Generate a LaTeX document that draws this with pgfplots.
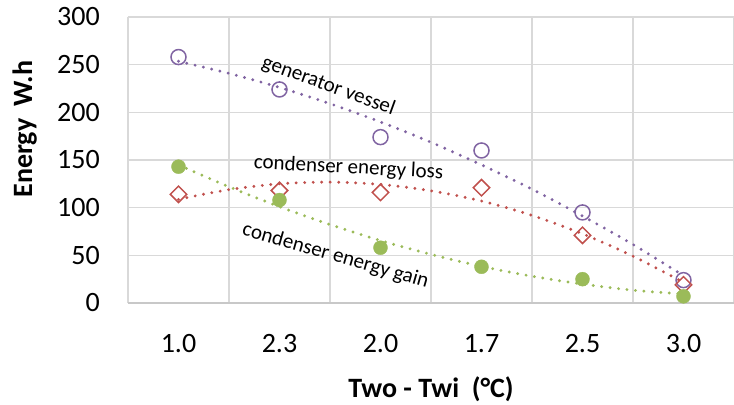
\documentclass[border=0pt]{standalone}
\usepackage{pgfplots}
\pgfplotsset{compat=1.18}
\usepackage{fontspec}
\setmainfont{Carlito}
\definecolor{gvc}{RGB}{128,100,162}
\definecolor{cel}{RGB}{192,80,77}
\definecolor{ceg}{RGB}{155,187,89}
\definecolor{gridc}{RGB}{217,217,217}
\definecolor{axc}{RGB}{200,200,200}
\begin{document}
\begin{tikzpicture}
\begin{axis}[
  name=ax,
  scale only axis, width=606bp, height=286bp,
  xmin=-0.5, xmax=5.5, ymin=0, ymax=300,
  ytick={0,50,...,300},
  xtick={0,...,5}, xticklabels={1.0,2.3,2.0,1.7,2.5,3.0},
  minor xtick={-0.5,0.5,...,5.5},
  xminorgrids, ymajorgrids,
  grid style={gridc, line width=1.3bp},
  minor grid style={gridc, line width=1.3bp},
  major tick length=0pt, minor tick length=0pt,
  axis line style={draw=none},
  tick label style={font=\fontsize{28bp}{34bp}\selectfont},
  /pgf/number format/assume math mode=true,
  xticklabel style={anchor=base, yshift=-49bp},
  yticklabel style={anchor=east, inner xsep=0pt, xshift=-28bp},
  xlabel={Two - Twi\ \ (°C)},
  ylabel={Energy\ \ W.h},
  label style={font=\bfseries\fontsize{28bp}{34bp}\selectfont},
  xlabel style={at={(axis description cs:0.5,-0.3287)}, anchor=base},
  ylabel style={at={(axis description cs:-0.1584,0.608)}, anchor=base},
  clip=false,
]
% markers
\addplot[only marks, mark=o, mark size=7.5bp, mark options={draw=gvc, line width=1.5bp}]
  coordinates {(0,258) (1,224) (2,174) (3,160) (4,95) (5,24)};
\addplot[only marks, mark=square, mark size=5.8bp, mark options={draw=cel, fill=none, line width=1.5bp, rotate=45}]
  coordinates {(0,114) (1,118) (2,116) (3,121) (4,71) (5,19)};
\addplot[only marks, mark=*, mark size=7bp, mark options={draw=ceg, fill=ceg}]
  coordinates {(0,143) (1,108) (2,58) (3,38) (4,25) (5,7)};
% trend lines
\addplot[gvc, smooth, no markers, line width=3.2bp, line cap=round, dash pattern=on 0pt off 8.5bp]
  coordinates {(0,253.5) (0.5,240.9) (1,226.1) (1.5,209.1) (2,189.9) (2.5,168.6) (3,144.9) (3.5,119.4) (4,91.2) (4.5,61.4) (5,28.7)};
\addplot[cel, smooth, no markers, line width=3.2bp, line cap=round, dash pattern=on 0pt off 8.5bp]
  coordinates {(0,108.7) (0.5,118.9) (1,125.0) (1.5,126.8) (2,124.4) (2.5,117.7) (3,107.0) (3.5,91.9) (4,72.6) (4.5,49.1) (5,21.6)};
\addplot[ceg, smooth, no markers, line width=3.2bp, line cap=round, dash pattern=on 0pt off 8.5bp]
  coordinates {(0,144.8) (0.5,121.9) (1,101.0) (1.5,82.3) (2,65.5) (2.5,51.0) (3,38.4) (3.5,28.1) (4,19.8) (4.5,13.4) (5,9.5)};
\draw[axc, line width=1.3bp] (axis cs:-0.5,0) -- (axis cs:5.5,0);
\node[rotate=-20, font=\fontsize{21bp}{25bp}\selectfont] at (axis cs:1.485,227.6) {generator vessel};
\node[rotate=-3, font=\fontsize{21bp}{25bp}\selectfont] at (axis cs:1.683,141.6) {condenser energy loss};
\node[rotate=-16, font=\fontsize{21bp}{25bp}\selectfont] at (axis cs:1.554,49.3) {condenser energy gain};
\end{axis}
\pgfresetboundingbox
\path[use as bounding box] ([xshift=-128bp,yshift=-102bp]ax.south west) rectangle ++(734bp,405bp);
\end{tikzpicture}
\end{document}
